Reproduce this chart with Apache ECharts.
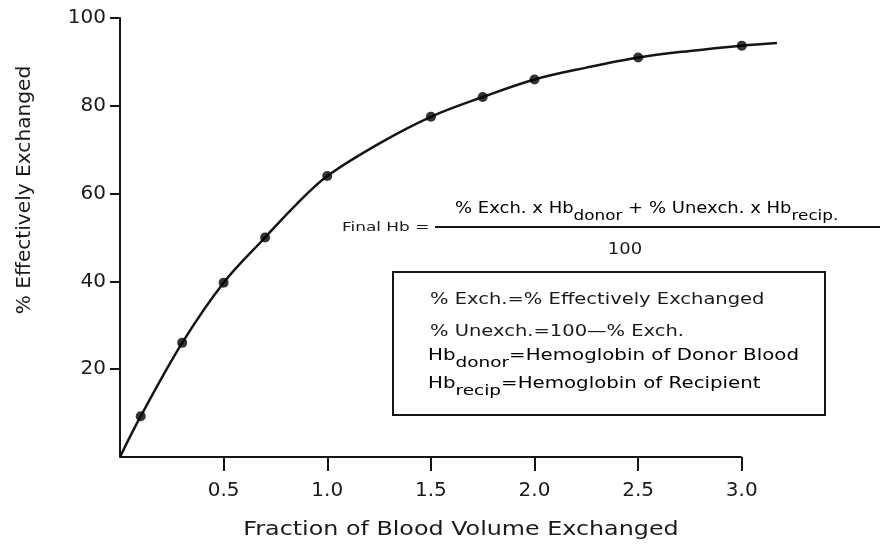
<!DOCTYPE html>
<html>
<head>
<meta charset="utf-8">
<script src="https://cdn.jsdelivr.net/npm/echarts@6/dist/echarts.min.js"></script>
<style>
  html, body { margin: 0; padding: 0; background: #ffffff; }
  #chart { width: 883px; height: 544px; }
</style>
</head>
<body>
<div id="chart"></div>
<script>
// fraction of blood volume exchanged vs % effectively exchanged
const fractionExchanged = [0.1, 0.3, 0.5, 0.7, 1.0, 1.5, 1.75, 2.0, 2.5, 3.0];
const pctExchanged = [9.3, 26, 39.7, 50, 64, 77.5, 82, 86, 91, 93.7];
// extra spots (between the dots, its start and its tail)
const curveOnlyX = [0, 0.85, 1.25, 2.25, 2.75, 3.17];
const curveOnlyY = [0, 57.5, 71.4, 88.7, 92.5, 94.3];
const xTicks = [0.5, 1.0, 1.5, 2.0, 2.5, 3.0];
const yTicks = [20, 40, 60, 80, 100];

const ink = '#151515';
const txt = '#1a1a1a';
const font = 'DejaVu Sans';

const points = fractionExchanged.map((x, i) => [x, pctExchanged[i]]);
const curve = points.concat(curveOnlyX.map((x, i) => [x, curveOnlyY[i]]))
  .sort((a, b) => a[0] - b[0]);

const chart = echarts.init(document.getElementById('chart'));

// rich text pieces for the Hb subscripts
function main() {
  return { fontFamily: font, fontSize: 15, lineHeight: 17, color: txt, verticalAlign: 'top' };
}
function sub() {
  return { fontFamily: font, fontSize: 14, lineHeight: 15, color: txt, verticalAlign: 'top', padding: [7, 0, 0, 0] };
}
function plain(text, x, y, size, sx, align) {
  return {
    type: 'text', x: x, y: y, scaleX: sx,
    style: { text: text, fontFamily: font, fontSize: size, fill: txt, align: align || 'left', verticalAlign: 'middle' }
  };
}
function richText(text, x, y, sx) {
  return {
    type: 'text', x: x, y: y, scaleX: sx,
    style: { text: text, align: 'left', verticalAlign: 'top', rich: { m: main(), s: sub() } }
  };
}

chart.setOption({
  backgroundColor: '#ffffff',
  animation: false,
  // x axis runs to 3.17 so the curve tail fits; the drawn axis line stops at 3.0
  grid: { left: 120, top: 18, right: 106, bottom: 87 },
  xAxis: {
    type: 'value',
    min: 0,
    max: 3.17,
    interval: 0.5,
    splitLine: { show: false },
    axisLine: { show: false },
    axisTick: { length: 14, customValues: xTicks, lineStyle: { color: ink, width: 2 } },
    axisLabel: {
      margin: 24,
      color: txt,
      fontFamily: font,
      fontSize: 20,
      customValues: xTicks,
      formatter: v => v.toFixed(1)
    }
  },
  yAxis: {
    type: 'value',
    min: 0,
    max: 100,
    interval: 20,
    splitLine: { show: false },
    axisLine: { show: true, lineStyle: { color: ink, width: 2 } },
    axisTick: { show: true, length: 10, customValues: yTicks, lineStyle: { color: ink, width: 2 } },
    axisLabel: {
      margin: 14,
      color: txt,
      fontFamily: font,
      fontSize: 20,
      customValues: yTicks
    }
  },
  series: [
    {
      name: 'curve',
      type: 'line',
      data: curve,
      smooth: 0.35,
      showSymbol: false,
      clip: false,
      lineStyle: { color: ink, width: 2.5 },
      markLine: {
        silent: true,
        symbol: 'none',
        label: { show: false },
        lineStyle: { color: ink, width: 2, type: 'solid' },
        data: [[{ coord: [0, 0] }, { coord: [3.0, 0] }]]
      }
    },
    {
      name: '% Effectively Exchanged',
      type: 'scatter',
      data: points,
      symbol: 'circle',
      symbolSize: 10,
      itemStyle: { color: '#000000' },
      z: 3
    }
  ],
  graphic: [
    {
      type: 'text',
      x: 25, y: 190,
      rotation: Math.PI / 2,
      scaleX: 1.06,
      style: {
        text: '% Effectively Exchanged',
        fontFamily: font, fontSize: 19, fill: txt,
        align: 'center', verticalAlign: 'middle'
      }
    },
    plain('Fraction of Blood Volume Exchanged', 461, 530, 20, 1.19, 'center'),
    plain('Final Hb =', 342, 228, 13, 1.3),
    {
      type: 'line',
      shape: { x1: 435, y1: 227, x2: 880, y2: 227 },
      style: { stroke: ink, lineWidth: 2 }
    },
    richText('{m|% Exch. x Hb}{s|donor}{m| + % Unexch. x Hb}{s|recip.}', 455, 202, 1.2),
    plain('100', 625, 250, 15, 1.2, 'center'),
    {
      type: 'rect',
      shape: { x: 393, y: 272, width: 432, height: 143 },
      style: { fill: 'none', stroke: ink, lineWidth: 2 }
    },
    plain('% Exch.=% Effectively Exchanged', 430, 300, 15, 1.3),
    plain('% Unexch.=100\u2014% Exch.', 430, 332, 15, 1.3),
    richText('{m|Hb}{s|donor}{m|=Hemoglobin of Donor Blood}', 428, 349, 1.32),
    richText('{m|Hb}{s|recip}{m|=Hemoglobin of Recipient}', 428, 377, 1.32)
  ]
});
</script>
</body>
</html>
